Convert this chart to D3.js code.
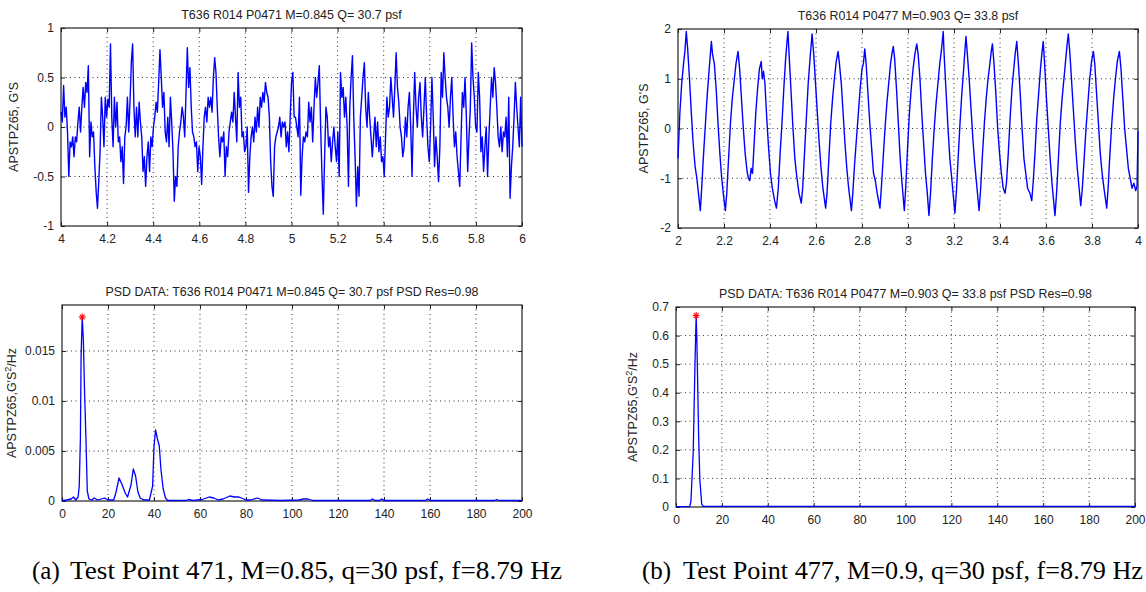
<!DOCTYPE html>
<html>
<head>
<meta charset="utf-8">
<script src="https://cdn.jsdelivr.net/npm/d3@7"></script>
<style>
  body { margin: 0; background: #fff; }
  svg text { font-family: "Liberation Sans", Arial, sans-serif; fill: #222; }
  .cap { font-family: "Liberation Serif", "Times New Roman", serif; fill: #000; }
</style>
</head>
<body>
<svg id="chart"></svg>
<script>
// ---- data ----
// (a) time history 4..6 s, first second and second second (evenly spaced samples)
const sigA1 = [0.15,0.05,0.42,0.1,0.2,-0.05,-0.5,-0.15,-0.2,-0.1,-0.3,-0.1,-0.15,0.05,0.2,-0.05,0.2,0.4,0.2,0.45,0.35,0.62,-0.3,0.05,-0.1,-0.05,-0.4,-0.65,-0.82,-0.55,-0.25,0.3,0.1,-0.2,0.3,0.1,0.28,0.2,0.84,0.1,-0.2,0.3,0.0,0.25,-0.15,-0.1,-0.35,-0.2,-0.57,-0.1,0.0,0.3,-0.05,0.25,0.65,0.84,0.2,-0.1,0.2,-0.1,0.25,0.05,-0.1,-0.45,-0.3,-0.6,-0.3,-0.15,-0.45,-0.1,-0.2,0.0,0.1,0.25,0.15,0.45,0.78,0.5,0.2,0.35,-0.05,-0.15,0.1,-0.2,0.3,0.05,-0.25,-0.75,-0.5,-0.6,-0.2,-0.05,0.05,0.2,0.1,-0.1,0.35,0.8,0.4,0.6,0.2,-0.05,-0.1,-0.2,-0.15,-0.45,-0.2,-0.3,-0.58,-0.2,0.1,0.2,0.05,0.3,0.2,0.3,0.15,0.5,0.7,0.55,0.2,-0.1,-0.3,-0.1,-0.15,-0.05,-0.5,-0.2,-0.3,-0.05,0.05,0.15,0.05,0.35,0.1,-0.15,0.55,0.2,0.3,-0.1,-0.05,-0.25,-0.2,0.0,-0.66,-0.3,-0.1,0.0,-0.15,0.1,-0.05,0.2,0.0,0.3,0.2,0.35,0.25,0.45,0.35,0.3,0.1,-0.35,-0.6,-0.7,-0.2,-0.1,-0.05,0.0,0.1,-0.1,0.05,0.0,0.05,-0.2,-0.05,-0.25,0.1,0.45];
const sigA2 = [0.45,0.55,0.1,0.1,0.0,-0.1,0.3,-0.69,-0.3,-0.1,-0.15,-0.05,-0.1,0.25,0.05,0.2,-0.15,0.2,0.5,0.3,0.45,0.62,0.0,-0.48,-0.88,-0.3,0.2,0.1,-0.2,-0.1,-0.35,-0.15,0.0,-0.2,-0.35,-0.05,-0.5,0.55,0.3,0.4,0.1,0.3,0.0,-0.6,0.2,0.5,0.72,0.1,-0.3,-0.8,-0.4,-0.7,0.1,0.3,0.5,0.65,0.2,0.0,0.35,0.1,-0.1,-0.3,-0.1,0.1,-0.2,0.05,-0.25,-0.1,-0.35,-0.3,-0.5,-0.1,0.3,0.1,0.2,0.5,0.3,0.1,0.4,0.75,0.4,0.25,0.0,-0.1,-0.3,-0.2,0.1,-0.1,0.2,0.35,0.0,-0.5,0.1,0.55,0.2,0.0,0.3,0.45,0.1,-0.1,0.2,0.5,0.1,-0.2,-0.35,0.0,0.5,0.1,-0.4,-0.1,-0.3,-0.55,-0.2,0.55,0.3,0.75,0.5,0.3,0.2,0.0,0.3,0.5,0.1,-0.2,-0.05,-0.3,-0.45,-0.6,-0.1,0.35,0.2,0.5,0.1,-0.45,-0.1,0.2,0.85,0.5,0.3,0.0,-0.05,0.55,0.3,-0.25,-0.1,-0.45,-0.2,0.0,-0.5,-0.1,0.2,0.5,0.3,0.6,0.45,0.2,-0.1,-0.2,0.0,-0.25,-0.05,-0.1,0.1,-0.3,0.3,-0.72,-0.4,-0.2,0.1,0.45,0.2,0.0,-0.2,0.3,-0.2];

// (b) time history 2..4 s as [t, value]
const sigB = [[2.000,-0.60],[2.008,0.3],[2.016,0.9],[2.024,1.3],[2.030,1.55],[2.036,1.95],[2.042,1.6],[2.050,1.0],[2.058,0.3],[2.066,-0.3],[2.074,-0.75],[2.082,-1.0],[2.090,-1.35],[2.097,-1.65],[2.103,-1.2],[2.110,-0.6],[2.118,0.0],[2.126,0.6],[2.134,1.1],[2.140,1.45],[2.145,1.75],[2.150,1.5],[2.158,1.3],[2.166,0.8],[2.174,0.1],[2.182,-0.5],[2.190,-1.0],[2.198,-1.35],[2.206,-1.65],[2.212,-1.3],[2.220,-0.6],[2.228,0.1],[2.236,0.6],[2.244,0.95],[2.252,1.3],[2.261,1.55],[2.268,1.2],[2.276,0.6],[2.284,0.0],[2.292,-0.5],[2.300,-0.85],[2.306,-1.0],[2.312,-1.05],[2.318,-0.8],[2.324,-0.9],[2.330,-0.4],[2.338,0.3],[2.346,0.8],[2.354,1.2],[2.362,1.35],[2.366,1.0],[2.372,1.15],[2.378,0.9],[2.386,0.2],[2.394,-0.4],[2.402,-0.9],[2.410,-1.2],[2.420,-1.45],[2.428,-1.6],[2.436,-1.2],[2.444,-0.5],[2.452,0.1],[2.460,0.8],[2.468,1.4],[2.474,1.75],[2.478,1.95],[2.484,1.4],[2.492,0.7],[2.500,0.0],[2.508,-0.6],[2.516,-0.95],[2.526,-1.3],[2.536,-1.5],[2.542,-1.2],[2.550,-0.5],[2.558,0.2],[2.566,0.9],[2.574,1.4],[2.583,1.9],[2.590,1.5],[2.598,0.9],[2.606,0.3],[2.614,-0.3],[2.622,-0.8],[2.630,-1.2],[2.642,-1.6],[2.648,-1.3],[2.656,-0.6],[2.664,0.1],[2.672,0.6],[2.680,1.0],[2.688,1.35],[2.696,1.55],[2.702,1.3],[2.710,0.9],[2.718,0.3],[2.726,-0.3],[2.734,-0.8],[2.742,-1.2],[2.754,-1.65],[2.760,-1.3],[2.768,-0.7],[2.776,-0.2],[2.784,0.3],[2.792,0.8],[2.800,1.2],[2.806,1.3],[2.812,1.6],[2.818,1.3],[2.826,0.7],[2.834,0.1],[2.842,-0.4],[2.850,-0.9],[2.858,-1.05],[2.866,-1.3],[2.878,-1.6],[2.884,-1.2],[2.892,-0.6],[2.900,0.0],[2.908,0.5],[2.916,0.9],[2.924,1.3],[2.930,1.5],[2.936,1.65],[2.942,1.4],[2.950,0.8],[2.958,0.1],[2.966,-0.6],[2.974,-1.1],[2.984,-1.65],[2.990,-1.2],[2.998,-0.4],[3.006,0.3],[3.014,0.8],[3.022,1.2],[3.030,1.5],[3.038,1.7],[3.044,1.5],[3.052,1.0],[3.060,0.3],[3.068,-0.3],[3.076,-0.9],[3.084,-1.3],[3.091,-1.75],[3.098,-1.3],[3.106,-0.6],[3.114,0.0],[3.122,0.5],[3.130,0.9],[3.138,1.3],[3.146,1.6],[3.153,1.95],[3.158,1.4],[3.166,0.7],[3.174,0.0],[3.182,-0.6],[3.190,-1.0],[3.198,-1.4],[3.204,-1.7],[3.210,-1.3],[3.218,-0.6],[3.226,0.1],[3.234,0.7],[3.242,1.2],[3.248,1.6],[3.252,1.85],[3.258,1.5],[3.266,1.0],[3.274,0.4],[3.282,-0.2],[3.290,-0.7],[3.298,-1.1],[3.309,-1.65],[3.316,-1.2],[3.324,-0.5],[3.332,0.1],[3.340,0.6],[3.348,1.0],[3.356,1.3],[3.362,1.55],[3.367,1.7],[3.374,1.3],[3.382,0.7],[3.390,0.0],[3.398,-0.5],[3.406,-0.9],[3.414,-1.2],[3.422,-1.3],[3.428,-1.1],[3.436,-0.5],[3.444,0.2],[3.452,0.8],[3.460,1.2],[3.466,1.5],[3.473,1.75],[3.480,1.3],[3.488,0.7],[3.496,0.0],[3.504,-0.6],[3.512,-0.9],[3.520,-1.2],[3.530,-1.3],[3.538,-1.45],[3.544,-1.1],[3.552,-0.5],[3.560,0.2],[3.568,0.7],[3.576,1.2],[3.582,1.5],[3.588,1.75],[3.594,1.3],[3.602,0.6],[3.610,0.0],[3.618,-0.6],[3.626,-1.1],[3.632,-1.4],[3.639,-1.75],[3.646,-1.3],[3.654,-0.6],[3.662,0.1],[3.670,0.6],[3.678,1.0],[3.686,1.4],[3.692,1.7],[3.697,1.9],[3.704,1.5],[3.712,0.9],[3.720,0.3],[3.728,-0.3],[3.736,-0.8],[3.744,-1.2],[3.751,-1.55],[3.758,-1.2],[3.766,-0.6],[3.774,0.0],[3.782,0.5],[3.790,1.0],[3.798,1.35],[3.806,1.55],[3.812,1.3],[3.820,0.7],[3.828,0.1],[3.836,-0.5],[3.844,-0.9],[3.852,-1.2],[3.864,-1.6],[3.870,-1.2],[3.878,-0.5],[3.886,0.1],[3.894,0.6],[3.902,1.0],[3.910,1.35],[3.919,1.55],[3.926,1.2],[3.934,0.6],[3.942,0.0],[3.950,-0.4],[3.958,-0.8],[3.966,-1.0],[3.974,-1.2],[3.982,-1.1],[3.990,-1.25],[3.996,-1.15],[4.000,-0.05]];

// PSDs as [Hz, value]
const psdA = [[0,0.00005],[2,0.0001],[4,0.0002],[5,0.0004],[6,0.0001],[7,0.0004],[7.5,0.0015],[8,0.0062],[8.3,0.0145],[8.79,0.0184],[9.3,0.016],[9.8,0.011],[10.4,0.0063],[11,0.001],[11.7,0.0002],[13,0.0001],[14,0.0003],[15.5,0.0001],[17,0.0002],[18.5,0.0003],[20,0.0001],[22.5,0.0001],[23.5,0.0009],[24.8,0.0023],[26,0.0017],[27.5,0.0008],[28.5,0.0004],[30,0.0016],[31,0.0032],[32,0.0025],[33,0.0009],[34,0.0003],[35.5,0.0001],[38,0.0001],[39.4,0.0015],[40,0.0055],[40.7,0.0071],[41.5,0.0062],[42.3,0.0055],[43,0.0032],[44,0.0012],[45,0.0003],[46,0.00005],[54,0.00005],[55,0.00015],[57,0.00005],[61,0.00015],[64,0.0004],[66,0.0003],[68,0.0001],[70,0.0002],[73,0.0005],[75,0.0004],[77,0.0004],[80,0.0001],[82,0.0001],[85,0.0003],[87,0.0001],[95,0.00005],[103,0.0001],[105,0.0002],[107,0.0002],[109,0.00005],[134,0.00005],[135,0.0002],[136,0.00005],[138,0.00005],[139,0.0002],[140,0.00005],[158,0.00005],[159,0.0002],[160,0.00005],[188,0.00005],[189,0.00015],[190,0.00005],[200,0.00005]];
const psdB = [[0,0.001],[6,0.001],[6.5,0.02],[7.5,0.19],[8.3,0.51],[8.79,0.67],[9.1,0.58],[9.5,0.41],[9.85,0.25],[10.4,0.095],[11.2,0.01],[11.9,0.002],[200,0.002]];
const peakA = [8.79, 0.0184];
const peakB = [8.79, 0.67];

// ticks and texts
const ticksTimeA = [4, 4.2, 4.4, 4.6, 4.8, 5, 5.2, 5.4, 5.6, 5.8, 6];
const ticksTimeB = [2, 2.2, 2.4, 2.6, 2.8, 3, 3.2, 3.4, 3.6, 3.8, 4];
const ticksFreq = [0, 20, 40, 60, 80, 100, 120, 140, 160, 180, 200];
const ticksYA = [-1, -0.5, 0, 0.5, 1];
const ticksYB = [-2, -1, 0, 1, 2];
const ticksPsdA = [0, 0.005, 0.01, 0.015];
const ticksPsdB = [0, 0.1, 0.2, 0.3, 0.4, 0.5, 0.6, 0.7];
const titles = [
  "T636 R014 P0471 M=0.845 Q= 30.7 psf",
  "T636 R014 P0477 M=0.903 Q= 33.8 psf",
  "PSD DATA: T636 R014 P0471 M=0.845 Q= 30.7 psf PSD Res=0.98",
  "PSD DATA: T636 R014 P0477 M=0.903 Q= 33.8 psf PSD Res=0.98"
];
const capLabels = ["(a)", "(b)"];
const captions = [
  "Test Point 471, M=0.85, q=30 psf, f=8.79 Hz",
  "Test Point 477, M=0.9, q=30 psf, f=8.79 Hz"
];

const width = 1146, height = 592;
const svg = d3.select('svg#chart').attr('width', width).attr('height', height);

// attach times to the (a) samples: each half spans one second
const seriesA = sigA1.map((v, i) => [4 + i / (sigA1.length - 1), v])
  .concat(sigA2.map((v, i) => [5 + i / (sigA2.length - 1), v]));

function drawPanel(p) {
  const x = d3.scaleLinear().domain(p.xDomain).range([p.left, p.right]);
  const y = d3.scaleLinear().domain(p.yDomain).range([p.bottom, p.top]);
  const g = svg.append('g');

  // dotted grid
  g.selectAll('line.gx').data(p.xTicks.slice(1, -1)).enter().append('line')
    .attr('x1', d => x(d)).attr('x2', d => x(d))
    .attr('y1', p.top).attr('y2', p.bottom)
    .attr('stroke', '#333').attr('stroke-width', 1).attr('stroke-dasharray', '1,3.5');
  g.selectAll('line.gy').data(p.yTicks.filter(d => y(d) > p.top + 1 && y(d) < p.bottom - 1)).enter().append('line')
    .attr('x1', p.left).attr('x2', p.right)
    .attr('y1', d => y(d)).attr('y2', d => y(d))
    .attr('stroke', '#333').attr('stroke-width', 1).attr('stroke-dasharray', '1,3.5');

  // axes (ticks point inwards, matlab style)
  const xb = g.append('g').attr('transform', 'translate(0,' + p.bottom + ')')
    .call(d3.axisBottom(x).tickValues(p.xTicks).tickSize(-4).tickPadding(8).tickFormat(d => d));
  const xt = g.append('g').attr('transform', 'translate(0,' + p.top + ')')
    .call(d3.axisTop(x).tickValues(p.xTicks).tickSize(-4).tickFormat(''));
  const yl = g.append('g').attr('transform', 'translate(' + p.left + ',0)')
    .call(d3.axisLeft(y).tickValues(p.yTicks).tickSize(-4).tickPadding(7).tickFormat(d => d));
  const yr = g.append('g').attr('transform', 'translate(' + p.right + ',0)')
    .call(d3.axisRight(y).tickValues(p.yTicks).tickSize(-4).tickFormat(''));
  [xb, xt, yl, yr].forEach(a => {
    a.select('.domain').remove();
    a.selectAll('line').attr('stroke', '#222');
    a.selectAll('text').attr('font-size', 12).attr('fill', '#222')
      .attr('font-family', '"Liberation Sans", Arial, sans-serif');
  });

  // box
  g.append('rect').attr('x', p.left).attr('y', p.top)
    .attr('width', p.right - p.left).attr('height', p.bottom - p.top)
    .attr('fill', 'none').attr('stroke', '#222').attr('stroke-width', 1.2);

  // data line
  g.append('path').datum(p.data)
    .attr('fill', 'none').attr('stroke', '#0000ff').attr('stroke-width', p.lw)
    .attr('stroke-linejoin', 'round')
    .attr('d', d3.line().x(d => x(d[0])).y(d => y(d[1])));

  // red peak marker
  if (p.peak) {
    const cx = x(p.peak[0]), cy = y(p.peak[1]), r = 3.5;
    const star = g.append('g').attr('stroke', '#ff0000').attr('stroke-width', 1.1);
    [[-r, 0, r, 0], [0, -r, 0, r], [-r * 0.7, -r * 0.7, r * 0.7, r * 0.7], [-r * 0.7, r * 0.7, r * 0.7, -r * 0.7]]
      .forEach(s => star.append('line')
        .attr('x1', cx + s[0]).attr('y1', cy + s[1]).attr('x2', cx + s[2]).attr('y2', cy + s[3]));
  }

  // title
  svg.append('text').attr('x', (p.left + p.right) / 2).attr('y', p.top - 9)
    .attr('text-anchor', 'middle').attr('font-size', 12.4).text(p.title);

  // y label
  const lab = svg.append('text')
    .attr('transform', 'translate(' + p.ylx + ',' + (p.top + p.bottom) / 2 + ') rotate(-90)')
    .attr('text-anchor', 'middle').attr('font-size', 12.5);
  if (p.psd) {
    lab.append('tspan').text("APSTPZ65,G'S");
    lab.append('tspan').attr('dy', -5).attr('font-size', 9).text('2');
    lab.append('tspan').attr('dy', 5).text('/Hz');
  } else {
    lab.text("APSTPZ65, G'S");
  }
}

drawPanel({ left: 61, right: 522, top: 28, bottom: 226, xDomain: [4, 6], yDomain: [-1, 1],
  xTicks: ticksTimeA, yTicks: ticksYA, data: seriesA, lw: 1.4, title: titles[0], ylx: 18 });
drawPanel({ left: 678, right: 1138, top: 29, bottom: 228, xDomain: [2, 4], yDomain: [-2, 2],
  xTicks: ticksTimeB, yTicks: ticksYB, data: sigB, lw: 1.4, title: titles[1], ylx: 648 });
drawPanel({ left: 62, right: 522, top: 305, bottom: 501, xDomain: [0, 200], yDomain: [0, 0.0196],
  xTicks: ticksFreq, yTicks: ticksPsdA, data: psdA, lw: 1.3, title: titles[2], ylx: 16, psd: true, peak: peakA });
drawPanel({ left: 676, right: 1135, top: 307, bottom: 507, xDomain: [0, 200], yDomain: [0, 0.7],
  xTicks: ticksFreq, yTicks: ticksPsdB, data: psdB, lw: 1.3, title: titles[3], ylx: 637, psd: true, peak: peakB });

// captions
const capPos = [{ lx: 32, tx: 70, len: 492 }, { lx: 642, tx: 683, len: 460 }];
capPos.forEach((c, i) => {
  svg.append('text').attr('class', 'cap').attr('x', c.lx).attr('y', 579).attr('font-size', 25).text(capLabels[i]);
  svg.append('text').attr('class', 'cap').attr('x', c.tx).attr('y', 579).attr('font-size', 25)
    .attr('textLength', c.len).attr('lengthAdjust', 'spacingAndGlyphs').text(captions[i]);
});
</script>
</body>
</html>
